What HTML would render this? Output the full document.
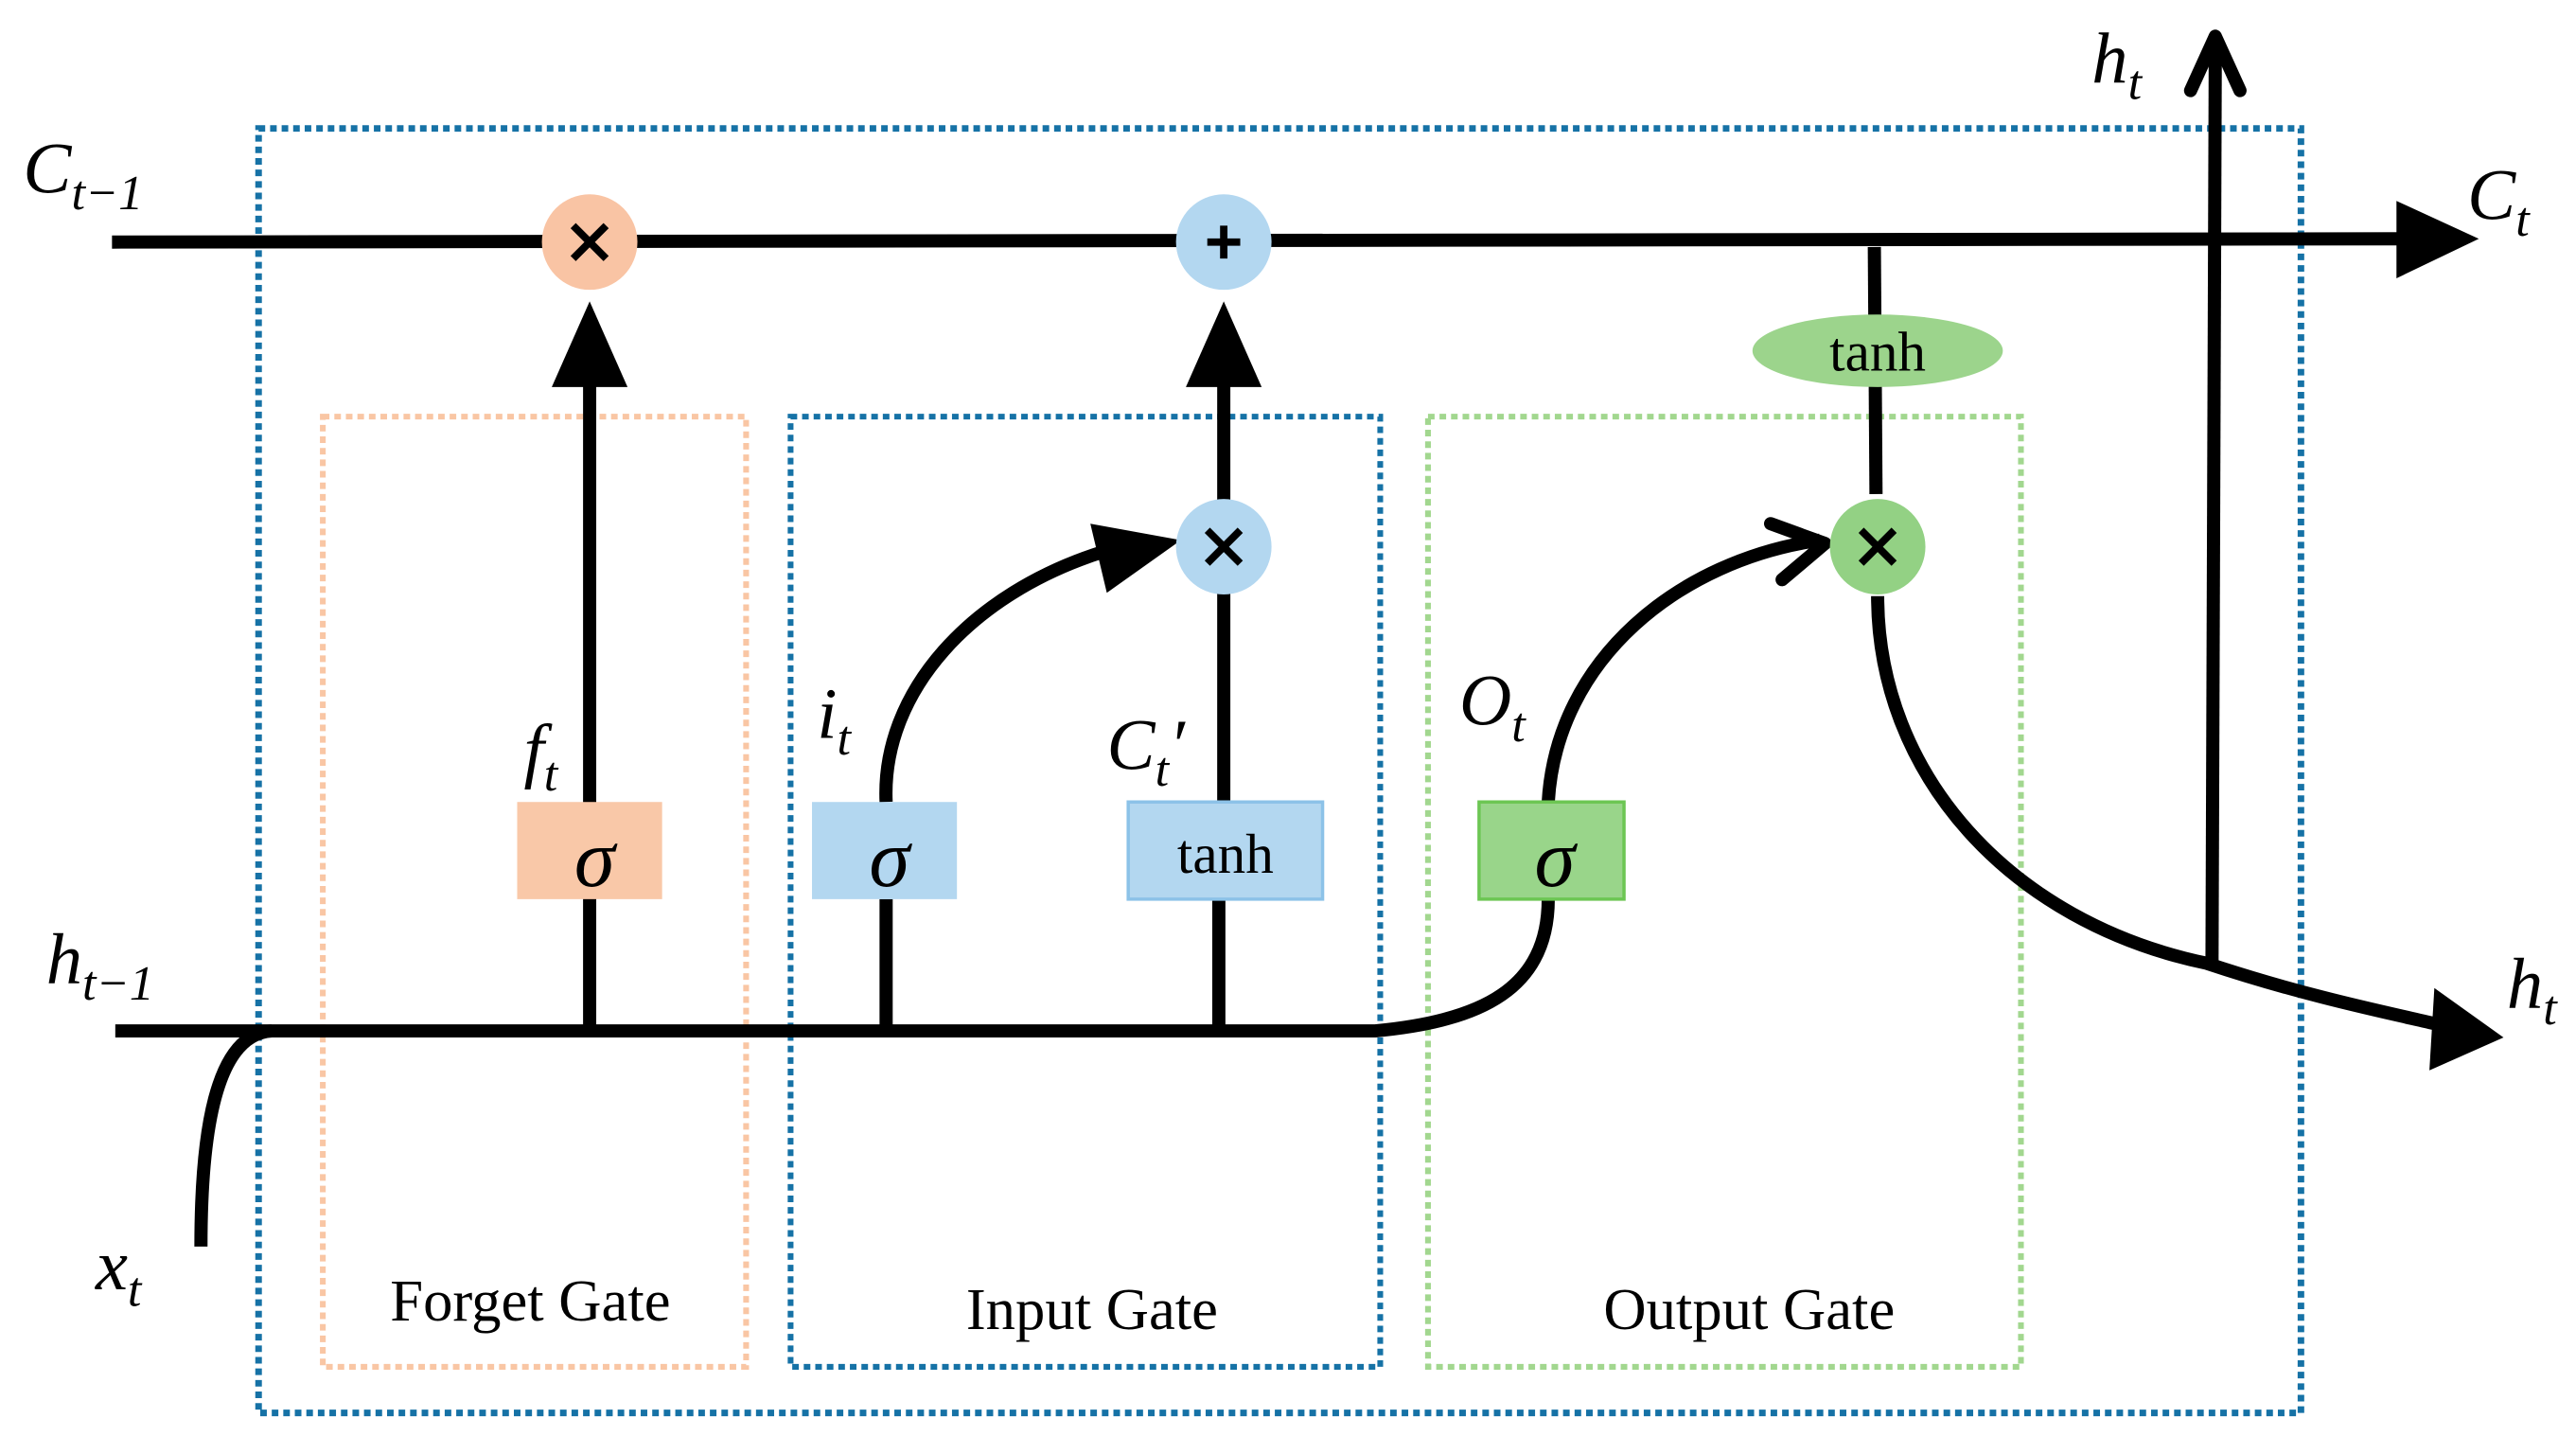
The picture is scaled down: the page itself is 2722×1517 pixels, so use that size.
<!DOCTYPE html>
<html><head><meta charset="utf-8"><style>
html,body{margin:0;padding:0;background:#fff;}
svg{display:block;}
text{font-family:"Liberation Serif",serif;}
.it{font-style:italic;}
</style></head><body>
<svg width="2722" height="1517" viewBox="0 0 1564 872" preserveAspectRatio="none" xmlns="http://www.w3.org/2000/svg">
<rect x="157" y="78" width="1240" height="780" fill="none" stroke="#1672a6" stroke-width="4" stroke-dasharray="4,3"/>
<rect x="196" y="253" width="257" height="577" fill="none" stroke="#f9c6a4" stroke-width="3.5" stroke-dasharray="4,3"/>
<rect x="480" y="253" width="358" height="577" fill="none" stroke="#1672a6" stroke-width="3.5" stroke-dasharray="4,3"/>
<rect x="867" y="253" width="360" height="577" fill="none" stroke="#a2d78f" stroke-width="3.5" stroke-dasharray="4,3"/>
<g stroke="#000" stroke-width="8" fill="none">
<line x1="68" y1="147" x2="1460" y2="145"/>
<path d="M70 626 L835 626 C900 620 940 600 940 546"/>
<path d="M122 757 C122 690 130 628 165 626"/>
<line x1="358" y1="626" x2="358" y2="230"/>
<line x1="538" y1="626" x2="538" y2="546"/>
<line x1="740" y1="626" x2="740" y2="546"/>
<line x1="743" y1="487" x2="743" y2="360"/>
<line x1="743" y1="304" x2="743" y2="230"/>
<line x1="1138" y1="150" x2="1139" y2="300"/>
<path d="M538 487 C535 420 590 360 670 335"/>
<path d="M940 487 C945 400 1020 340 1105 328"/>
<path d="M1140 362 C1140 470 1220 560 1340 585 C1400 605 1450 615 1480 622"/>
<line x1="1343" y1="585" x2="1345" y2="30"/>
<path d="M1330 55 L1345 22 L1360 55" stroke-linecap="round" stroke-linejoin="round"/>
<path d="M1075 318 L1108 330 L1082 352" stroke-linecap="round" stroke-linejoin="round"/>
</g>
<polygon points="1455,122 1505,145 1455,169" fill="#000"/>
<polygon points="335,235 358,183 381,235" fill="#000"/>
<polygon points="720,235 743,183 766,235" fill="#000"/>
<polygon points="662,318 717,328 672,360" fill="#000"/>
<polygon points="1478,600 1520,630 1475,650" fill="#000"/>
<circle cx="358" cy="147" r="29" fill="#f9c4a4"/>
<circle cx="743" cy="147" r="29" fill="#b3d7f0"/>
<circle cx="743" cy="332" r="29" fill="#b3d7f0"/>
<circle cx="1140" cy="332" r="29" fill="#93d184"/>
<g stroke="#000" stroke-width="4.5">
<path d="M348 137 L368 157 M368 137 L348 157"/>
<path d="M733 322 L753 342 M753 322 L733 342"/>
<path d="M1130 322 L1150 342 M1150 322 L1130 342"/>
<path d="M733 147 L753 147 M743 137 L743 157"/>
</g>
<ellipse cx="1140" cy="213" rx="76" ry="22" fill="#9cd48c"/>
<rect x="314" y="487" width="88" height="59" fill="#f9c8a8"/>
<rect x="493" y="487" width="88" height="59" fill="#b3d7f0"/>
<rect x="685" y="487" width="118" height="59" fill="#b3d7f0" stroke="#8cc2e8" stroke-width="2"/>
<rect x="898" y="487" width="88" height="59" fill="#99d58a" stroke="#6cc653" stroke-width="2"/>
<g font-size="50" class="it" text-anchor="middle">
<text x="361" y="538">σ</text>
<text x="540" y="538">σ</text>
<text x="944" y="538">σ</text>
</g>
<g font-size="34" text-anchor="middle">
<text x="744" y="530">tanh</text>
<text x="1140" y="225">tanh</text>
<text x="322" y="802" font-size="36">Forget Gate</text>
<text x="663" y="807" font-size="36">Input Gate</text>
<text x="1062" y="807" font-size="36">Output Gate</text>
</g>
<g font-size="44" class="it">
<text x="14" y="117">C<tspan font-size="30" dy="10">t−1</tspan></text>
<text x="28" y="597">h<tspan font-size="30" dy="10">t−1</tspan></text>
<text x="58" y="783">x<tspan font-size="30" dy="10">t</tspan></text>
<text x="318" y="470">f<tspan font-size="30" dy="10">t</tspan></text>
<text x="496" y="448">i<tspan font-size="30" dy="10">t</tspan></text>
<text x="672" y="467">C<tspan font-size="30" dy="10">t</tspan><tspan dy="-10">′</tspan></text>
<text x="886" y="440">O<tspan font-size="30" dy="10">t</tspan></text>
<text x="1270" y="50">h<tspan font-size="30" dy="10">t</tspan></text>
<text x="1498" y="133">C<tspan font-size="30" dy="10">t</tspan></text>
<text x="1522" y="612">h<tspan font-size="30" dy="10">t</tspan></text>
</g>
</svg>
</body></html>
